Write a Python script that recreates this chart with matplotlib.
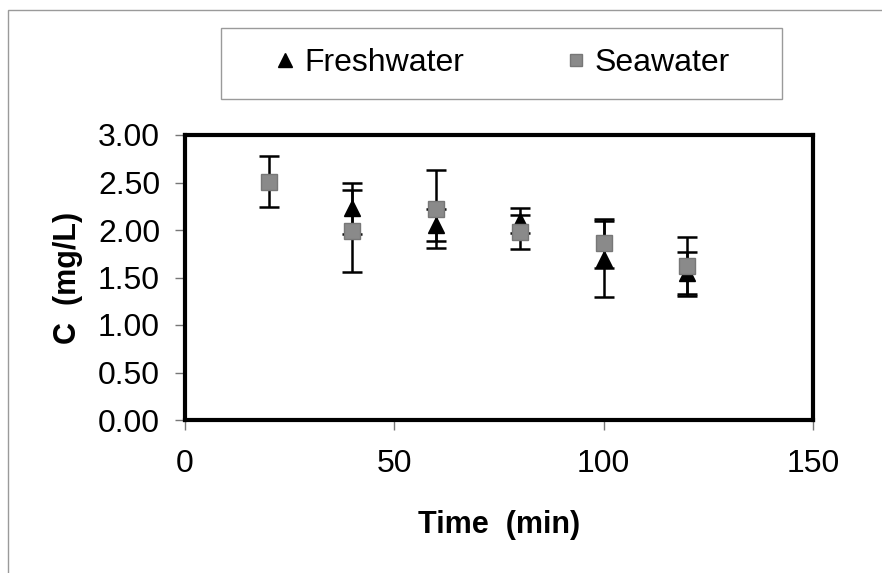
import matplotlib
matplotlib.use("Agg")
import matplotlib.pyplot as plt
from matplotlib.patches import Rectangle
from matplotlib.lines import Line2D

# ---- data ----
time_fresh = [40, 60, 80, 100, 120]
c_fresh = [2.23, 2.05, 2.10, 1.70, 1.55]
err_fresh = [0.27, 0.17, 0.13, 0.40, 0.22]

time_sea = [20, 40, 60, 80, 100, 120]
c_sea = [2.51, 1.99, 2.22, 1.98, 1.86, 1.62]
err_sea = [0.27, 0.43, 0.41, 0.18, 0.26, 0.31]

x_ticks = [0, 50, 100, 150]
y_ticks = [0.0, 0.5, 1.0, 1.5, 2.0, 2.5, 3.0]
y_ticklabels = ["0.00", "0.50", "1.00", "1.50", "2.00", "2.50", "3.00"]
x_label = "Time  (min)"
y_label = "C  (mg/L)"
series_names = ["Freshwater", "Seawater"]

plt.rcParams['font.family'] = ['Liberation Sans', 'DejaVu Sans']

W, H = 882, 573
fig = plt.figure(figsize=(W / 100, H / 100), dpi=100)

# outer chart-area border (thin gray)
fig.add_artist(Rectangle((8 / W, -0.1), 1.2, 1 - 10 / H + 0.1,
                         transform=fig.transFigure, fill=False,
                         edgecolor='#9a9a9a', linewidth=1.0))

ax = fig.add_axes([185 / W, (H - 420) / H, (813 - 185) / W, (420 - 135) / H])

sea_color = '#8a8a8a'

ax.errorbar(time_fresh, c_fresh, yerr=err_fresh, fmt='^', color='black',
            markersize=11, ecolor='black', elinewidth=1.8, capsize=7,
            capthick=1.8, zorder=3)
ax.errorbar(time_sea, c_sea, yerr=err_sea, fmt='s', color=sea_color,
            markeredgecolor='#777777', markersize=11, ecolor='black',
            elinewidth=1.8, capsize=7, capthick=1.8, zorder=4)

ax.set_xlim(0, 150)
ax.set_ylim(0, 3)
ax.set_xticks(x_ticks)
ax.set_yticks(y_ticks)
ax.set_yticklabels(y_ticklabels)

for s in ax.spines.values():
    s.set_linewidth(3)
    s.set_color('black')

ax.tick_params(axis='both', direction='out', length=7, width=1,
               color='#777777', labelsize=23)
ax.tick_params(axis='x', pad=14)
ax.tick_params(axis='y', pad=11)

ax.set_xlabel(x_label, fontsize=22, fontweight='bold', labelpad=22)
ax.set_ylabel(y_label, fontsize=22, fontweight='bold', labelpad=11)

# legend box
lx0, lx1, ly0, ly1 = 221, 782, 28, 99
fig.add_artist(Rectangle((lx0 / W, 1 - ly1 / H), (lx1 - lx0) / W, (ly1 - ly0) / H,
                         transform=fig.transFigure, fill=False,
                         edgecolor='#9a9a9a', linewidth=1.0))
handles = [Line2D([], [], linestyle='none', marker='^', color='black', markersize=10),
           Line2D([], [], linestyle='none', marker='s', color=sea_color,
                  markeredgecolor='#777777', markersize=9)]
fig.legend(handles, series_names, loc='center',
           bbox_to_anchor=((lx0 + lx1) / 2 / W + 2 / W, 1 - (ly0 + ly1) / 2 / H),
           ncol=2, frameon=False, fontsize=23, handlelength=0.5,
           handletextpad=0.35, columnspacing=3.25)

fig.savefig("out.png", dpi=100, facecolor='white')
